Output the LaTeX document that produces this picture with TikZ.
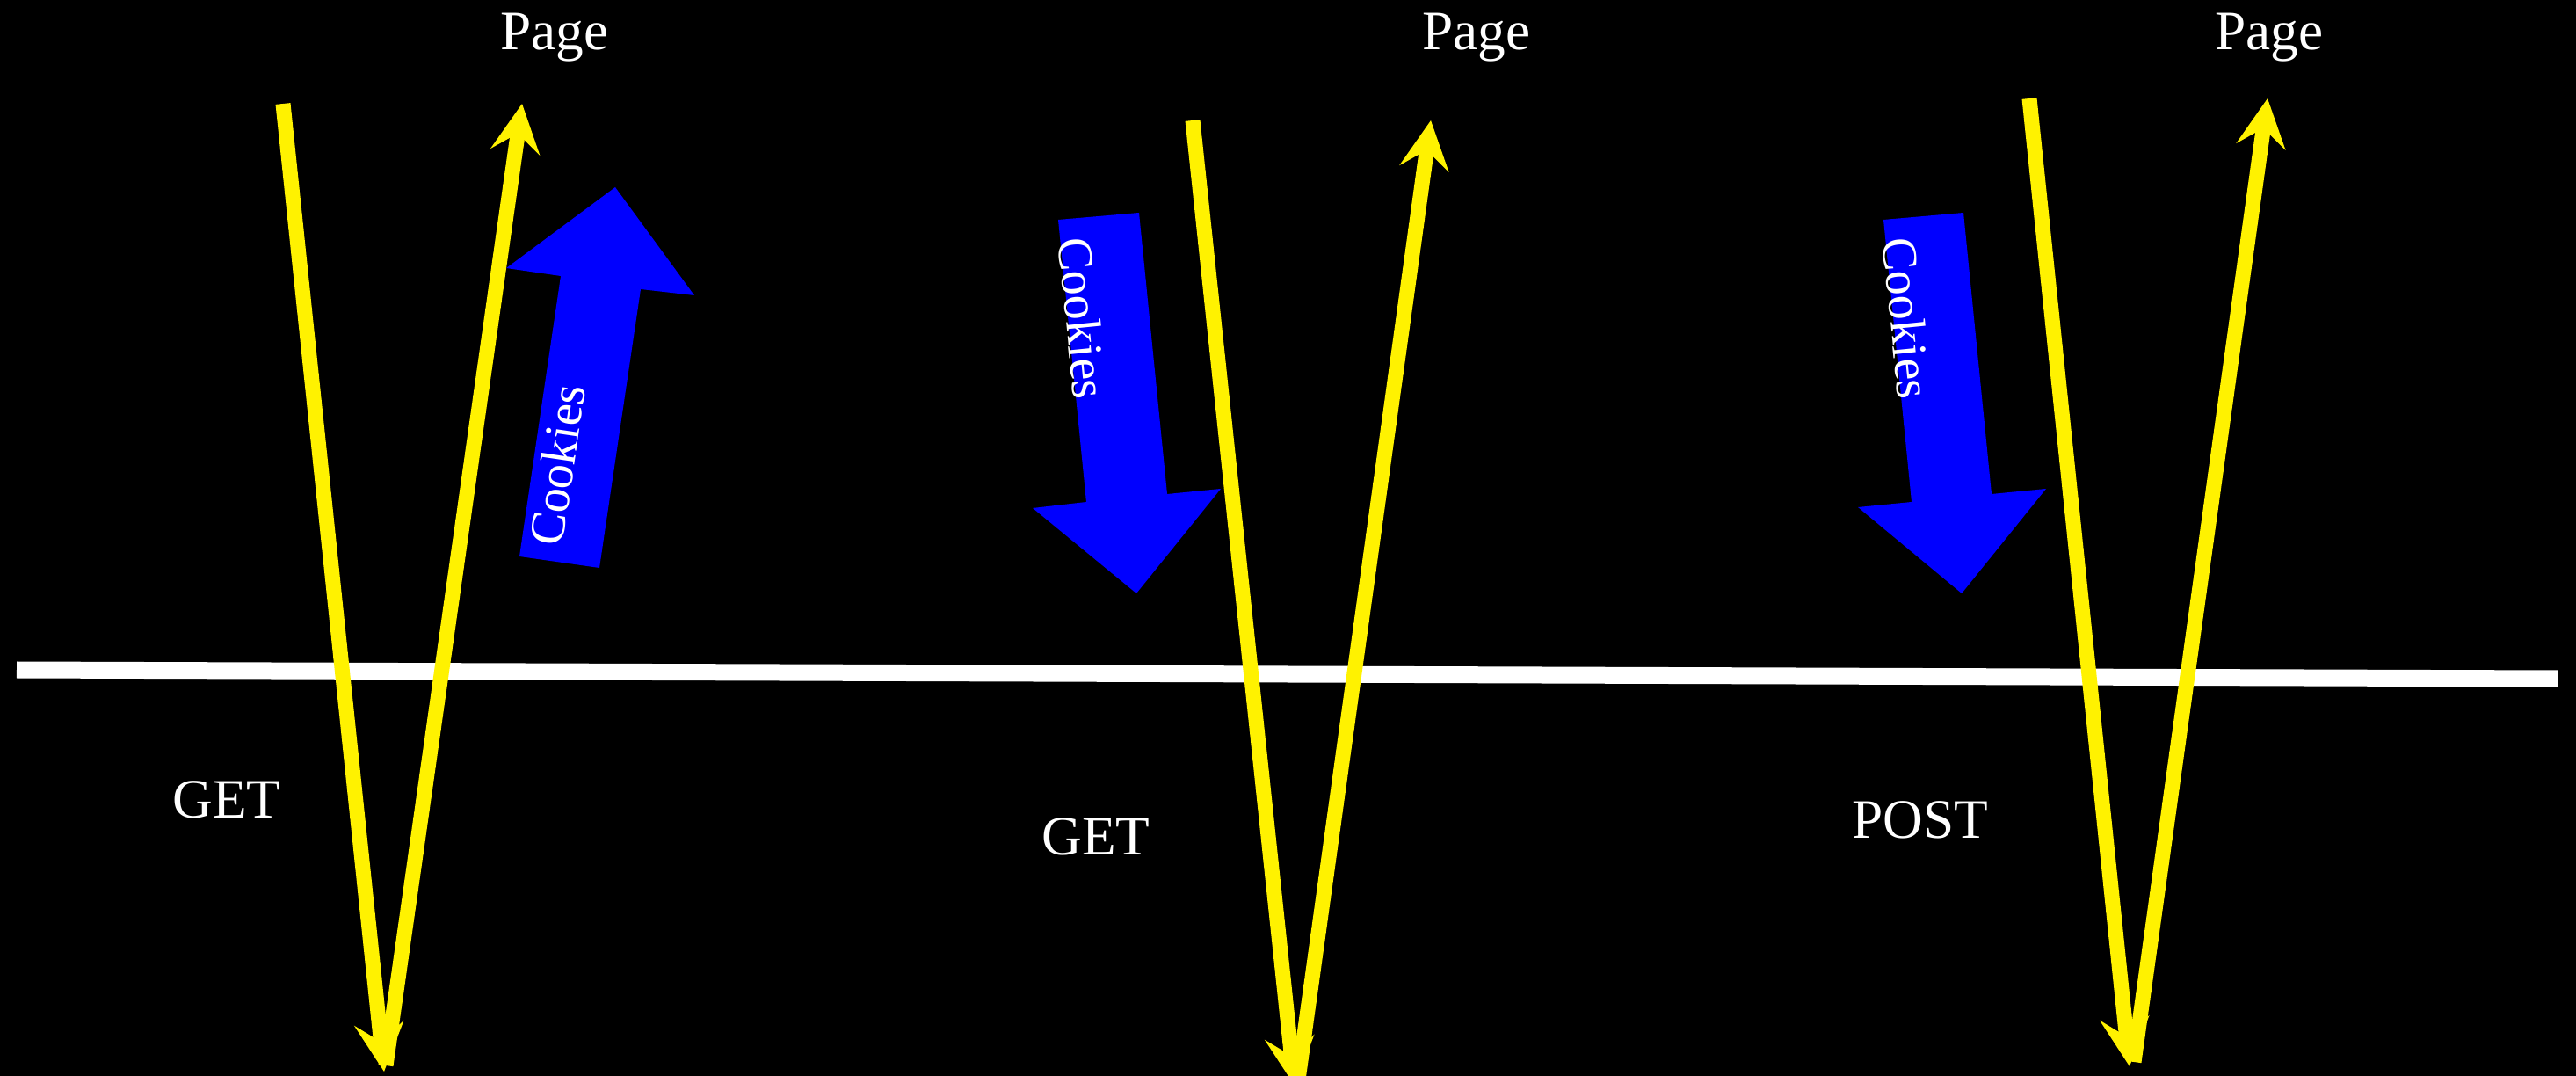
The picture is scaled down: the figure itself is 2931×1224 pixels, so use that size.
\documentclass[tikz,border=0pt]{standalone}
\usepackage{fontspec}
\setmainfont{Liberation Serif}
\usetikzlibrary{arrows.meta}
\tikzset{
  wire/.style={yellow, line width=1.7mm, -{Stealth[length=5.5mm, width=5.6mm, inset=2.1mm]}},
  cookiearrow/.style={fill=blue},
  lbl/.style={text=white, inner sep=0pt, font=\fontsize{18}{21}\selectfont},
  cookielbl/.style={text=white, inner sep=0pt, font=\fontsize{16}{19}\selectfont},
}

\begin{document}
\begin{tikzpicture}[x=0.1mm, y=0.1mm]
  \fill[black] (0,0) rectangle (2931,-1224);
  \useasboundingbox (0,0) rectangle (2931,-1224);

  \coordinate (left) at (19,-762);
  \coordinate (right) at (2910,-772);
  \draw [white, line width=1.9mm] (left) -- (right);

  \node [lbl, anchor=base] (pageA) at (631,-57) {Page};
  \node [lbl, anchor=base] (pageB) at (1680,-57) {Page};
  \node [lbl, anchor=base] (pageC) at (2582,-57) {Page};
  \node [lbl, anchor=base] (getA) at (258,-930) {GET};
  \node [lbl, anchor=base] (getB) at (1247,-972) {GET};
  \node [lbl, anchor=base] (postC) at (2185,-953) {POST};

  \coordinate (reqA) at (322,-118);
  \coordinate (srvA) at (437,-1219);
  \coordinate (outA) at (439,-1212);
  \coordinate (resA) at (594,-118);
  \coordinate (reqB) at (1357,-137);
  \coordinate (srvB) at (1473,-1235);
  \coordinate (outB) at (1477,-1228);
  \coordinate (resB) at (1628,-137);
  \coordinate (reqC) at (2309,-112);
  \coordinate (srvC) at (2423,-1213);
  \coordinate (outC) at (2428,-1208);
  \coordinate (resC) at (2580,-112);

  \draw [wire] (reqA) -- (srvA);
  \draw [wire] (outA) -- (resA);
  \draw [wire] (reqB) -- (srvB);
  \draw [wire] (outB) -- (resB);
  \draw [wire] (reqC) -- (srvC);
  \draw [wire] (outC) -- (resC);

  \fill [cookiearrow] (591,-633) -- (638,-314) -- (576,-305) -- (700,-213)
    -- (790,-336) -- (729,-329) -- (682,-646) -- cycle;
  \fill [cookiearrow] (1204,-250) -- (1296,-242) -- (1328,-562) -- (1389,-556)
    -- (1293,-675) -- (1175,-578) -- (1236,-571) -- cycle;
  \fill [cookiearrow] (2143,-250) -- (2234,-242) -- (2266,-562) -- (2328,-556)
    -- (2232,-675) -- (2114,-577) -- (2175,-571) -- cycle;

  \node [cookielbl, rotate=81.6] (cookA) at (634,-529) {Cookies};
  \node [cookielbl, rotate=-84.3] (cookB) at (1232,-362) {Cookies};
  \node [cookielbl, rotate=-84.3] (cookC) at (2170,-362) {Cookies};
\end{tikzpicture}
\end{document}
